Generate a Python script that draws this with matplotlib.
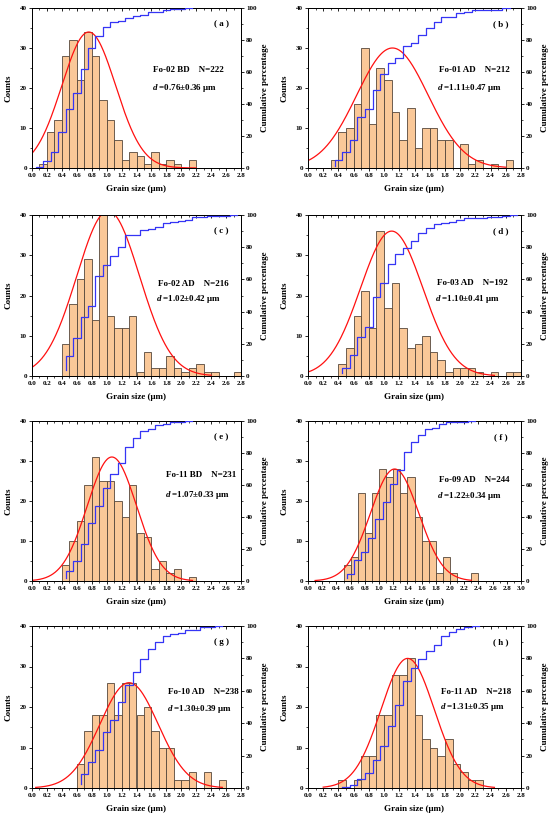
import numpy as np
import matplotlib
matplotlib.use("Agg")
import matplotlib.pyplot as plt

plt.rcParams['font.family'] = ['Liberation Serif', 'DejaVu Serif']
plt.rcParams['font.weight'] = 'bold'
plt.rcParams['mathtext.fontset'] = 'custom'
plt.rcParams['mathtext.it'] = 'Liberation Serif:italic:bold'
plt.rcParams['mathtext.rm'] = 'Liberation Serif:bold'

# ---------------- data ----------------
panel_letters = ['a', 'b', 'c', 'd', 'e', 'f', 'g', 'h']
sample_names = ['Fo-02 BD', 'Fo-01 AD', 'Fo-02 AD', 'Fo-03 AD',
                'Fo-11 BD', 'Fo-09 AD', 'Fo-10 AD', 'Fo-11 AD']
sample_n = [222, 212, 216, 192, 231, 244, 238, 218]
mean_d = [0.76, 1.11, 1.02, 1.10, 1.07, 1.22, 1.30, 1.31]
sd_d = [0.36, 0.47, 0.42, 0.41, 0.33, 0.34, 0.39, 0.35]
fit_peak = [34, 30, 41, 36, 31, 28, 26, 32]
fit_lo = [0.0, 0.0, 0.0, 0.0, 0.0, 0.1, 0.05, 0.2]
fit_hi = [2.2, 2.6, 2.4, 2.45, 2.15, 2.3, 2.55, 2.45]
bin_width = 0.1
bin_start = [0.0, 0.3, 0.4, 0.4, 0.4, 0.5, 0.6, 0.4]

counts_a = [0, 1, 9, 12, 28, 32, 22, 34, 28, 17, 12, 7, 2, 4, 3, 1, 4, 1, 2, 1, 0, 2]
counts_b = [2, 9, 10, 16, 30, 11, 25, 22, 14, 7, 15, 5, 10, 10, 7, 7, 0, 6, 1, 2, 0, 1, 0, 2]
counts_c = [8, 18, 24, 29, 14, 40, 15, 12, 12, 15, 1, 6, 2, 2, 5, 2, 1, 2, 3, 1, 1, 0, 0, 1]
counts_d = [3, 7, 15, 21, 12, 36, 17, 23, 12, 7, 8, 10, 6, 4, 1, 2, 2, 2, 1, 0, 1, 0, 1, 1]
counts_e = [4, 10, 15, 24, 31, 25, 25, 20, 16, 24, 12, 11, 3, 5, 2, 3, 0, 1]
counts_f = [4, 6, 22, 12, 22, 28, 26, 28, 22, 26, 16, 10, 10, 2, 6, 2, 0, 0, 2]
counts_g = [6, 14, 18, 18, 26, 18, 26, 26, 18, 20, 14, 10, 10, 2, 2, 4, 0, 4, 0, 2]
counts_h = [2, 0, 2, 8, 8, 18, 18, 28, 28, 32, 18, 12, 10, 8, 12, 6, 4, 2, 2]
all_counts = [counts_a, counts_b, counts_c, counts_d,
              counts_e, counts_f, counts_g, counts_h]

x_max = [2.8, 2.8, 2.8, 2.8, 2.8, 3.0, 2.8, 2.8]

# ---------------- layout ----------------
W, H = 550, 819
col_x = [(32, 241), (308, 521)]
row_y = [(8, 168), (215, 376), (421, 581), (626, 788)]
text_pos = [(0.75, 0.61, 0.50), (0.78, 0.61, 0.50), (0.77, 0.57, 0.48),
            (0.77, 0.58, 0.48), (0.81, 0.66, 0.54), (0.78, 0.63, 0.53),
            (0.82, 0.59, 0.49), (0.79, 0.59, 0.50)]

bar_fc = '#FAC898'
bar_ec = '#55473b'
fs_tick = 5
fs_lab = 6.5
fs_txt = 6.5

fig = plt.figure(figsize=(W / 100, H / 100), dpi=100)
fig.patch.set_facecolor('white')

for i in range(8):
    r, c = divmod(i, 2)
    x0, x1 = col_x[c]
    yt, yb = row_y[r]
    ax = fig.add_axes([x0 / W, 1 - yb / H, (x1 - x0) / W, (yb - yt) / H])
    counts = np.array(all_counts[i], dtype=float)
    edges = bin_start[i] + bin_width * np.arange(len(counts))
    centers = edges + bin_width / 2
    ax.bar(edges, counts, width=bin_width, align='edge', color=bar_fc,
           edgecolor=bar_ec, linewidth=0.6, zorder=2)
    xf = np.linspace(fit_lo[i], fit_hi[i], 300)
    yf = fit_peak[i] * np.exp(-(xf - mean_d[i]) ** 2 / (2 * sd_d[i] ** 2))
    ax.plot(xf, yf, color='#ff1010', lw=0.9, zorder=4)

    ax.set_xlim(0, x_max[i])
    ax.set_ylim(0, 40)
    ax.set_xticks(np.arange(0, x_max[i] + 0.01, 0.2))
    ax.set_xticks(np.arange(0, x_max[i] + 0.01, 0.1), minor=True)
    ax.set_yticks([0, 10, 20, 30, 40])
    ax.set_yticks(np.arange(0, 41, 5), minor=True)
    ax.set_xticklabels([f'{v:.1f}' for v in np.arange(0, x_max[i] + 0.01, 0.2)])
    ax.tick_params(axis='both', which='major', direction='out', length=2.2,
                   width=0.6, labelsize=fs_tick, pad=1.5)
    ax.tick_params(axis='both', which='minor', direction='out', length=1.2,
                   width=0.5)
    for s in ax.spines.values():
        s.set_linewidth(0.7)
    ax.set_xlabel('Grain size (μm)', fontsize=fs_lab, fontweight='bold', labelpad=5)
    ax.set_ylabel('Counts', fontsize=fs_lab, fontweight='bold', labelpad=5)

    sec = ax.secondary_xaxis('top')
    sec.set_xticks(np.arange(0, x_max[i] + 0.01, 0.2))
    sec.set_xticks(np.arange(0, x_max[i] + 0.01, 0.1), minor=True)
    sec.tick_params(axis='x', which='major', direction='in', length=2.2,
                    width=0.6, labeltop=False)
    sec.tick_params(axis='x', which='minor', direction='in', length=1.2,
                    width=0.5)
    sec.spines['top'].set_linewidth(0.7)

    ax2 = ax.twinx()
    cum = np.cumsum(counts) / counts.sum() * 100
    ax2.plot(centers, cum, drawstyle='steps-pre', color='#3535f5', lw=0.9,
             zorder=5)
    ax2.set_ylim(0, 100)
    ax2.set_yticks([0, 20, 40, 60, 80, 100])
    ax2.set_yticks(np.arange(0, 101, 10), minor=True)
    ax2.tick_params(axis='y', which='major', direction='out', length=2.2,
                    width=0.6, labelsize=fs_tick, pad=1.5)
    ax2.tick_params(axis='y', which='minor', direction='out', length=1.2,
                    width=0.5)
    ax2.set_ylabel('Cumulative percentage', fontsize=fs_lab, fontweight='bold',
                   labelpad=3)
    for s in ax2.spines.values():
        s.set_linewidth(0.7)

    for lab in ax.get_xticklabels() + ax.get_yticklabels() + ax2.get_yticklabels():
        lab.set_fontweight('bold')

    tx, ty1, ty2 = text_pos[i]
    ax.text(tx, ty1, f'{sample_names[i]}    N={sample_n[i]}', transform=ax.transAxes,
            ha='center', va='center', fontsize=fs_txt, fontweight='bold', zorder=6)
    ax.text(tx - 0.02, ty2, r'$\mathit{d}$' + f' ={mean_d[i]:.2f}±{sd_d[i]:.2f} μm',
            transform=ax.transAxes, ha='center', va='center', fontsize=fs_txt,
            fontweight='bold', zorder=6)
    ax.text(0.905, 0.9, f'( {panel_letters[i]} )', transform=ax.transAxes,
            ha='center', va='center', fontsize=fs_txt, fontweight='bold', zorder=6)

fig.savefig('out.png', dpi=100, facecolor='white')
